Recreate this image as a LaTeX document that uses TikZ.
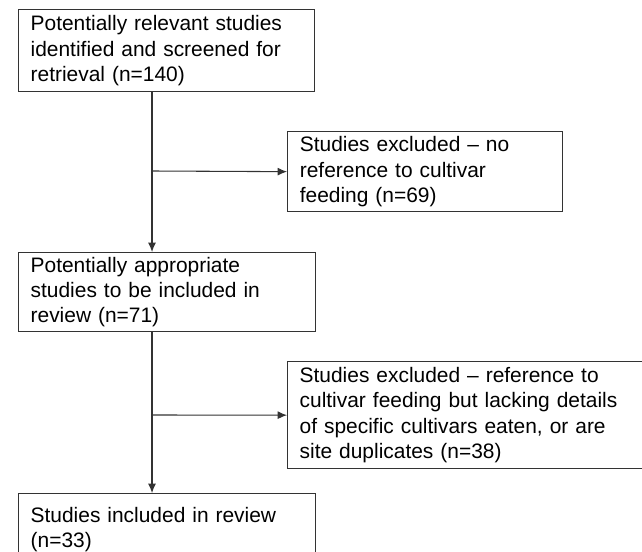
\documentclass[tikz,border=0pt]{standalone}
\usepackage{fontspec}
\setmainfont{Liberation Sans}
\usetikzlibrary{arrows.meta}

\begin{document}
\begin{tikzpicture}[x = 0.75pt, y = -0.75pt,
  box/.style = {draw = black!80, line width = 1pt, anchor = north west, align = left,
    inner xsep = 9pt, inner ysep = 2pt, font = \fontsize{15.7}{18.9}\selectfont},
  arr/.style = {draw = black!80, line width = 0.8pt, -{Latex[length = 7pt, width = 6pt]}}]
\useasboundingbox (0,0) rectangle (642,552);
\clip (0,0) rectangle (642,552);

\node[box, minimum width = 222pt, minimum height = 61.5pt, text width = 204pt] (ID) at (18,9)
  {Potentially relevant studies\\ identified and screened for\\ retrieval (n=140)};
\node[box, minimum width = 206.25pt, minimum height = 60pt, text width = 188pt] (EX1) at (287,131)
  {Studies excluded -- no\\ reference to cultivar\\ feeding (n=69)};
\node[box, minimum width = 222.75pt, minimum height = 59.25pt, text width = 204.75pt] (EL) at (18,252)
  {Potentially appropriate\\ studies to be included in\\ review (n=71)};
\node[box, minimum width = 285pt, minimum height = 80.25pt, text width = 267pt] (EX2) at (287,361)
  {Studies excluded -- reference to\\ cultivar feeding but lacking details\\ of specific cultivars eaten, or are\\ site duplicates (n=38)};
\node[box, minimum width = 222.75pt, minimum height = 54pt, text width = 204.75pt] (INC) at (18,493)
  {Studies included in review\\ (n=33)};

\coordinate (J1) at (152,171);
\coordinate (J2) at (152,415);
\draw[arr] (ID.south -| J1) -- (EL.north -| J1);
\draw[arr] (J1) -- (EX1.west);
\draw[arr] (EL.south -| J2) -- (INC.north -| J2);
\draw[arr] (J2) -- (EX2.west);
\end{tikzpicture}
\end{document}
